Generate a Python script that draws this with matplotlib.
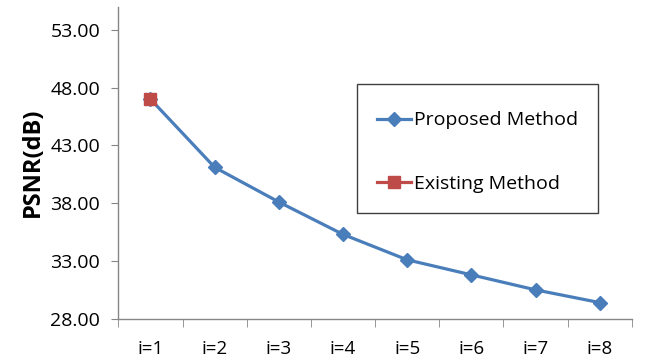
import numpy as np
import matplotlib
matplotlib.use("Agg")
import matplotlib.pyplot as plt
from matplotlib.patches import Rectangle

categories = ["i=1", "i=2", "i=3", "i=4", "i=5", "i=6", "i=7", "i=8"]
proposed = [47.0, 41.1, 38.1, 35.3, 33.1, 31.8, 30.5, 29.4]
existing = [47.0, np.nan, np.nan, np.nan, np.nan, np.nan, np.nan, np.nan]
y_ticks = [28, 33, 38, 43, 48, 53]

plt.rcParams["font.family"] = ["Open Sans", "DejaVu Sans"]

W, H = 652, 361
fig = plt.figure(figsize=(W / 100, H / 100), dpi=100)
ax = fig.add_axes([0.1815, 0.117, 0.969 - 0.1815, 0.9817 - 0.117])

x = np.arange(len(categories))
ax.plot(x, proposed, color="#4A7EBB", lw=2.3, marker="D", markersize=7.0,
        markerfacecolor="#4A7EBB", markeredgecolor="#4A7EBB",
        label="Proposed Method", zorder=3)
ax.plot(x, existing, color="#BE4B48", lw=2.3, marker="s", markersize=9.0,
        markerfacecolor="#BE4B48", markeredgecolor="#BE4B48",
        label="Existing Method", zorder=4)

ax.set_xlim(-0.5, len(categories) - 0.5)
ax.set_ylim(28, 55)
ax.set_yticks(y_ticks)
ax.set_yticklabels([f"{v:.2f}" for v in y_ticks])
ax.set_xticks(x)
ax.set_xticklabels(categories)
ax.set_xticks(np.arange(len(categories) + 1) - 0.5, minor=True)

axis_col = "#868686"
for side in ["top", "right"]:
    ax.spines[side].set_visible(False)
for side in ["left", "bottom"]:
    ax.spines[side].set_color(axis_col)
    ax.spines[side].set_linewidth(1.0)

ax.tick_params(axis="y", direction="out", length=5, color=axis_col,
               labelsize=14, pad=8, labelcolor="#000000")
ax.tick_params(axis="x", which="major", length=0, labelsize=13.5, pad=15)
ax.tick_params(axis="x", which="minor", direction="out", length=6, color=axis_col)

ax.set_ylabel("PSNR(dB)", fontsize=17, fontweight="bold", labelpad=4)

# legend entries without frame; the box is drawn separately
leg = ax.legend(loc="upper left", bbox_to_anchor=(357 / W, 1 - 91 / H),
                bbox_transform=fig.transFigure, frameon=False,
                fontsize=14, handlelength=1.75, handletextpad=0.15,
                labelspacing=2.35, borderpad=1.05, borderaxespad=0)
fig.patches.append(Rectangle((357 / W, 1 - 213 / H), (598 - 357) / W, (213 - 84) / H,
                             transform=fig.transFigure, fill=False,
                             edgecolor="#404040", linewidth=1.0, zorder=5))

fig.savefig("out.png", dpi=100)
